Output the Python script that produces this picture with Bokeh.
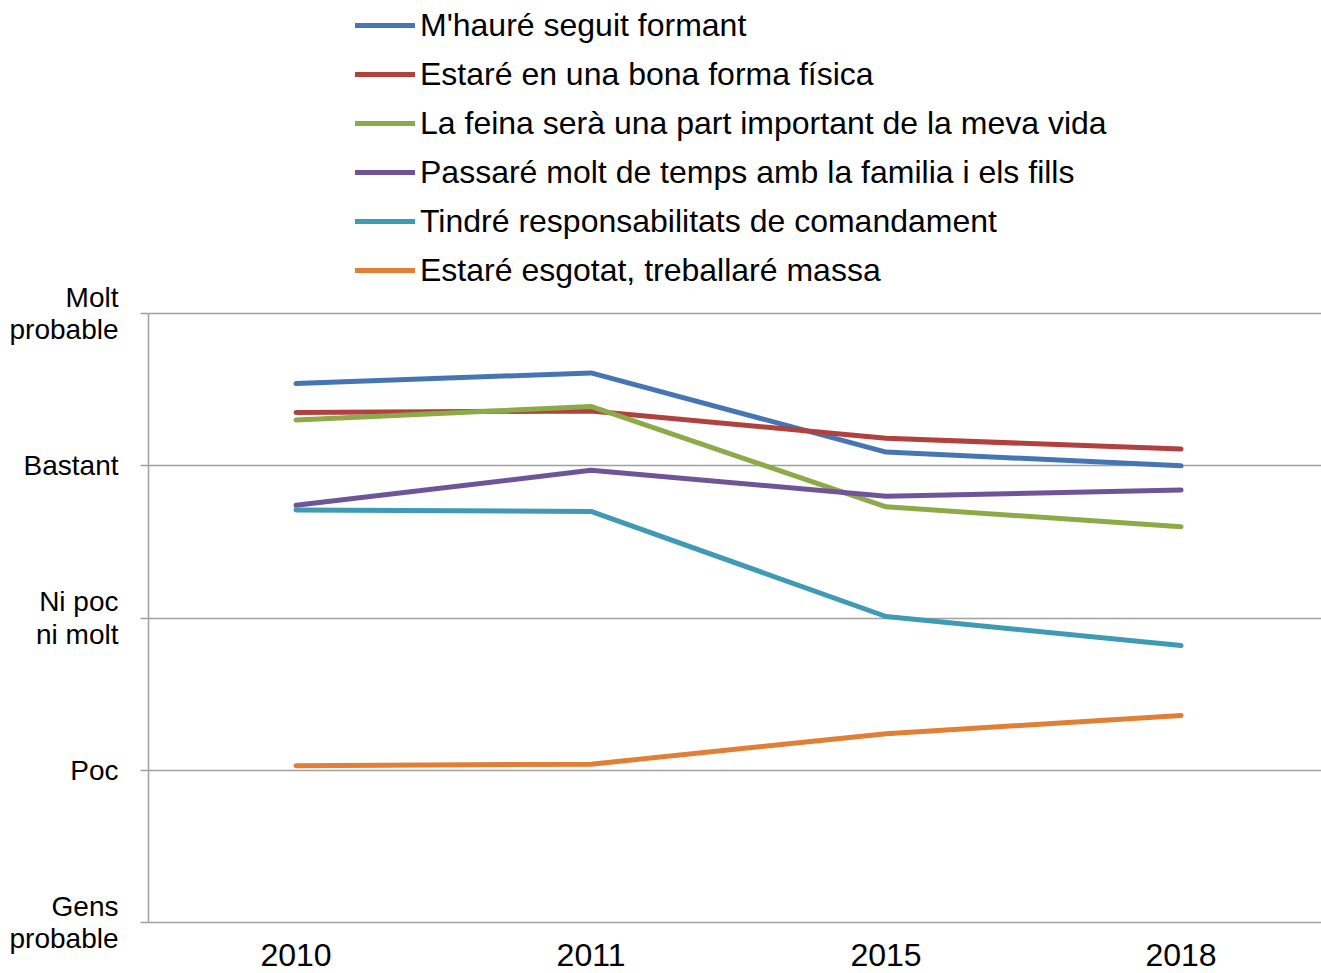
from bokeh.plotting import figure
from bokeh.models import Range1d, FixedTicker, Legend, LegendItem
from bokeh.embed import file_html
from bokeh.resources import INLINE

years = ["2010", "2011", "2015", "2018"]
level_values = [1, 2, 3, 4, 5]
level_labels = ["Gens\nprobable", "Poc", "Ni poc\nni molt", "Bastant", "Molt\nprobable"]

series_names = [
    "M'hauré seguit formant",
    "Estaré en una bona forma física",
    "La feina serà una part important de la meva vida",
    "Passaré molt de temps amb la familia i els fills",
    "Tindré responsabilitats de comandament",
    "Estaré esgotat, treballaré massa",
]
formant = [4.54, 4.61, 4.09, 4.00]
fisica = [4.35, 4.36, 4.18, 4.11]
feina = [4.30, 4.39, 3.73, 3.60]
familia = [3.74, 3.97, 3.80, 3.84]
comandament = [3.71, 3.70, 3.01, 2.82]
esgotat = [2.03, 2.04, 2.24, 2.36]
series_values = [formant, fisica, feina, familia, comandament, esgotat]
colors = ["#4675B4", "#B0413E", "#8CAA48", "#6F5597", "#3F9AB4", "#E07F35"]

FONT = "Liberation Sans"
x_idx = list(range(len(years)))

# the frame reaches the top of the figure; the space above level 5 holds the legend
p = figure(width=1321, height=973, output_backend="svg", toolbar_location=None,
           x_range=Range1d(-0.5, 3.476), y_range=Range1d(1, 7.056),
           min_border_left=148, min_border_right=0, min_border_top=0,
           min_border_bottom=51)
p.outline_line_color = None
p.background_fill_color = "white"
p.border_fill_color = "white"

items = []
for name, vals, c in zip(series_names, series_values, colors):
    r = p.line(x_idx, vals, line_color=c, line_width=5, line_join="round", line_cap="round")
    items.append(LegendItem(label=name, renderers=[r]))

# axes
p.xaxis.ticker = FixedTicker(ticks=x_idx)
p.xaxis.major_label_overrides = {i: y for i, y in zip(x_idx, years)}
p.xaxis.major_tick_line_color = None
p.xaxis.minor_tick_line_color = None
p.xaxis.axis_line_color = "#A0A0A0"
p.xaxis.axis_line_width = 1.5
p.xaxis.major_label_text_font = FONT
p.xaxis.major_label_text_font_size = "32px"
p.xaxis.major_label_text_color = "#000000"
p.xaxis.major_label_standoff = 15

p.yaxis.ticker = FixedTicker(ticks=level_values)
p.yaxis.bounds = (1, 5)
p.yaxis.major_label_overrides = {v: l for v, l in zip(level_values, level_labels)}
p.yaxis.minor_tick_line_color = None
p.yaxis.major_tick_in = 0
p.yaxis.major_tick_out = 8
p.yaxis.major_tick_line_color = "#A0A0A0"
p.yaxis.major_tick_line_width = 1.5
p.yaxis.axis_line_color = "#A0A0A0"
p.yaxis.axis_line_width = 1.5
p.yaxis.major_label_text_font = FONT
p.yaxis.major_label_text_font_size = "28px"
p.yaxis.major_label_text_line_height = 1.05
p.yaxis.major_label_text_color = "#000000"
p.yaxis.major_label_standoff = 22

p.xgrid.grid_line_color = None
p.ygrid.grid_line_color = "#A0A0A0"
p.ygrid.grid_line_width = 1.5

legend = Legend(items=items, location=(207, 633), orientation="vertical",
                padding=0, margin=0, spacing=11,
                glyph_width=60, glyph_height=38, label_height=38,
                label_standoff=5, border_line_color=None,
                background_fill_alpha=0,
                label_text_font=FONT, label_text_font_size="32px",
                label_text_color="#000000")
p.add_layout(legend, "center")

open("out.html", "w").write(file_html(p, INLINE))
